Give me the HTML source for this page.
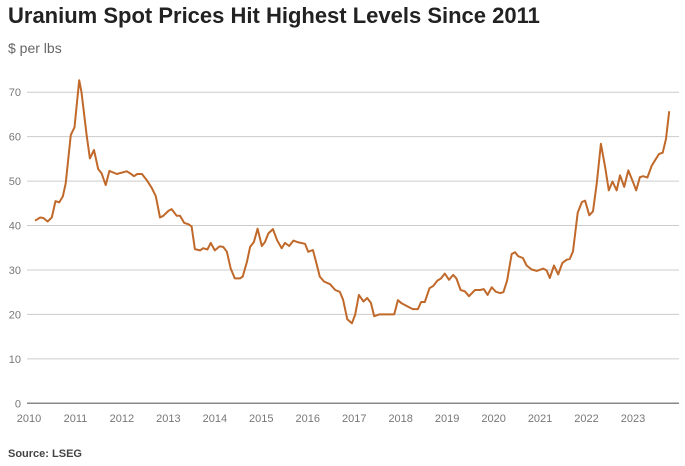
<!DOCTYPE html>
<html><head><meta charset="utf-8"><style>
body{margin:0;background:#fff;width:685px;height:461px;overflow:hidden;font-family:"Liberation Sans",sans-serif}
</style></head><body>
<svg id="chart" width="685" height="461" xmlns="http://www.w3.org/2000/svg">
<text x="8" y="23" font-size="22" font-weight="bold" fill="#222" font-family="Liberation Sans, sans-serif">Uranium Spot Prices Hit Highest Levels Since 2011</text>
<text x="8" y="53" font-size="14" fill="#666">$ per lbs</text>
<text x="8" y="457" font-size="11" font-weight="bold" fill="#444">Source: LSEG</text>
<g id="grid"></g><g id="xt"></g>
<path id="line" fill="none" stroke="#c0692a" stroke-width="2" stroke-linejoin="round"/>
</svg>
<script>
const yTicks=[0,10,20,30,40,50,60,70];
const xTicks=[2010,2011,2012,2013,2014,2015,2016,2017,2018,2019,2020,2021,2022,2023];
const dates=[0.13,0.24,0.31,0.40,0.49,0.57,0.65,0.73,0.79,0.90,0.98,1.08,1.13,1.24,1.31,1.40,1.49,1.56,1.65,1.73,1.89,2.10,2.17,2.26,2.33,2.43,2.53,2.64,2.73,2.82,2.89,3.00,3.07,3.18,3.25,3.34,3.43,3.50,3.57,3.68,3.75,3.84,3.91,4.00,4.10,4.18,4.26,4.34,4.43,4.54,4.60,4.69,4.76,4.84,4.92,5.01,5.08,5.15,5.25,5.34,5.44,5.51,5.60,5.69,5.80,5.94,6.01,6.11,6.18,6.26,6.35,6.48,6.59,6.69,6.76,6.85,6.95,7.02,7.10,7.20,7.28,7.36,7.43,7.54,7.77,7.86,7.94,8.02,8.13,8.26,8.37,8.44,8.52,8.62,8.70,8.79,8.87,8.95,9.04,9.13,9.20,9.29,9.38,9.47,9.60,9.71,9.79,9.87,9.96,10.05,10.14,10.21,10.29,10.39,10.46,10.53,10.63,10.71,10.82,10.93,11.07,11.14,11.21,11.30,11.39,11.48,11.57,11.64,11.71,11.81,11.90,11.97,12.06,12.14,12.22,12.31,12.40,12.48,12.56,12.65,12.72,12.81,12.90,12.99,13.07,13.15,13.22,13.31,13.40,13.47,13.56,13.64,13.71,13.78];
const prices=[41.1,41.8,41.7,40.9,41.8,45.5,45.2,46.6,49.5,60.4,62.1,72.7,70,60.4,55.1,57,52.7,51.8,49.1,52.3,51.6,52.2,51.8,51.1,51.6,51.6,50.3,48.5,46.6,41.8,42.2,43.3,43.7,42.2,42.2,40.6,40.3,39.8,34.7,34.4,34.9,34.6,36.1,34.4,35.3,35.2,34.1,30.4,28.1,28.1,28.5,31.8,35.2,36.3,39.3,35.4,36.3,38.2,39.2,36.7,34.9,36.1,35.4,36.6,36.2,35.9,34.1,34.5,31.8,28.5,27.4,26.8,25.5,25.1,23.3,18.9,18,19.9,24.4,22.9,23.7,22.6,19.6,20,20,20,23.2,22.5,21.9,21.2,21.2,22.8,22.8,25.9,26.4,27.6,28.1,29.2,27.8,28.9,28.1,25.5,25.2,24.1,25.5,25.5,25.7,24.4,26.1,25.1,24.8,25,27.6,33.6,34,33.1,32.7,31,30.1,29.8,30.3,29.9,28.2,31,29,31.6,32.3,32.5,34.2,42.9,45.3,45.6,42.3,43.2,49.4,58.4,53.2,47.9,49.9,47.9,51.3,48.7,52.4,50.1,47.9,50.9,51.1,50.8,53.4,54.6,56.1,56.4,59.5,65.7];
const ns="http://www.w3.org/2000/svg";
const y=v=>403.3-v*4.444;
const x=t=>29+(t-2010)*46.46;
const g=document.getElementById('grid');
yTicks.forEach(v=>{
 const l=document.createElementNS(ns,'line');
 
 
 l.setAttribute('x1',27);l.setAttribute('x2',679);l.setAttribute('y1',y(v));l.setAttribute('y2',y(v));
 l.setAttribute('stroke',v===0?'#888':'#ccc');l.setAttribute('stroke-width',v===0?1.5:1);
 g.appendChild(l);
 const t=document.createElementNS(ns,'text');
 
 
 t.setAttribute('x',21);t.setAttribute('y',y(v)+4);t.setAttribute('text-anchor','end');
 t.setAttribute('font-size','11');t.setAttribute('fill','#777');t.textContent=v;g.appendChild(t);
});
const xt=document.getElementById('xt');
xTicks.forEach(yr=>{
 const t=document.createElementNS(ns,'text');
 
 
 t.setAttribute('x',x(yr));t.setAttribute('y',422);t.setAttribute('text-anchor','middle');
 t.setAttribute('font-size','11');t.setAttribute('fill','#777');t.textContent=yr;xt.appendChild(t);
});
document.getElementById('line').setAttribute('d',dates.map((d,i)=>(i?'L':'M')+x(2010+d).toFixed(1)+','+y(prices[i]).toFixed(1)).join(''));
</script>
</body></html>
